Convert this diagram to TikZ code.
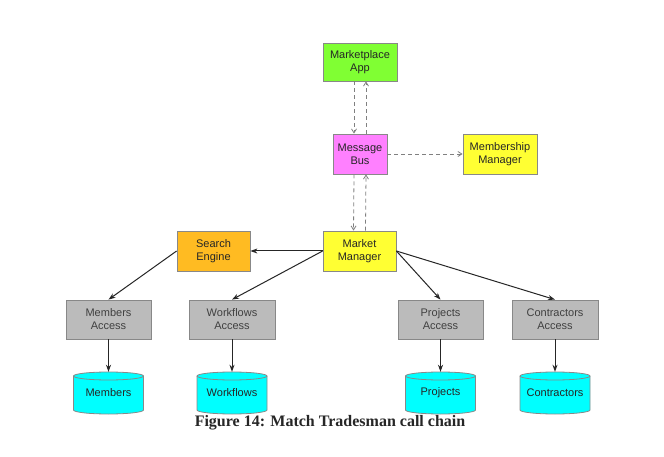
\documentclass[tikz,border=0pt]{standalone}
\usepackage{fontspec}
\setmainfont{Liberation Sans}
\newfontfamily\capfont{Liberation Serif}
\usetikzlibrary{arrows.meta,calc}
\definecolor{cgreen}{HTML}{80FF33}
\definecolor{cviolet}{HTML}{FF80FF}
\definecolor{cyellow}{HTML}{FFFF33}
\definecolor{corange}{HTML}{FFBB22}
\definecolor{cgray}{HTML}{BBBBBB}
\definecolor{ccyan}{HTML}{00FFFF}
\definecolor{cborder}{HTML}{888888}
\definecolor{cdash}{HTML}{808080}
\tikzset{
  box/.style={draw=cborder, line width=0.8pt, align=center, text=black!85,
    font=\fontsize{11}{13}\selectfont, inner sep=0pt},
  cylnode/.style={draw=none, align=center, text=black!85,
    font=\fontsize{11}{13}\selectfont, minimum width=70pt, minimum height=42pt, inner sep=0pt},
  solidarrow/.style={line width=1pt, black!85, -{Stealth[length=7pt,width=5pt]}},
  dasharrow/.style={line width=0.8pt, cdash, dash pattern=on 4pt off 3pt,
    -{Straight Barb[length=4pt,width=5pt]}},
}
\newcommand{\mycyl}[4]{%
  \fill[ccyan] (#2-35,#3-17) -- (#2-35,#3+17) arc[start angle=180,end angle=0,x radius=35,y radius=4]
    -- (#2+35,#3-17) arc[start angle=0,end angle=-180,x radius=35,y radius=4] -- cycle;
  \draw[cborder, line width=0.8pt] (#2-35,#3-17) -- (#2-35,#3+17) arc[start angle=180,end angle=0,x radius=35,y radius=4]
    -- (#2+35,#3-17) arc[start angle=0,end angle=-180,x radius=35,y radius=4] -- cycle;
  \draw[cborder, line width=0.8pt] (#2-35,#3-17) arc[start angle=180,end angle=0,x radius=35,y radius=4];
  \node[cylnode] (#1) at (#2,#3) {\raisebox{-4pt}{#4}};
}
\begin{document}
\begin{tikzpicture}[x=1pt,y=-1pt]
\useasboundingbox[fill=white] (0,0) rectangle (664,457);

\node[box, fill=cgreen, minimum width=74pt, minimum height=38pt] (ma) at (360,62) {Marketplace\\App};
\node[box, fill=cviolet, minimum width=54pt, minimum height=40pt] (mb) at (360,154) {Message\\Bus};
\node[box, fill=cyellow, minimum width=74pt, minimum height=40pt] (mem) at (500,154) {Membership\\Manager};
\node[box, fill=corange, minimum width=73pt, minimum height=40pt] (se) at (213.5,251) {Search\\Engine};
\node[box, fill=cyellow, minimum width=73pt, minimum height=40pt] (mm) at (359.5,251) {Market\\Manager};

\node[box, fill=cgray, minimum width=85pt, minimum height=39pt, text=black!75] (mema) at (108.5,319.5) {Members\\Access};
\node[box, fill=cgray, minimum width=86pt, minimum height=39pt, text=black!75] (wfa) at (232,319.5) {Workflows\\Access};
\node[box, fill=cgray, minimum width=85pt, minimum height=39pt, text=black!75] (pa) at (440.5,319.5) {Projects\\Access};
\node[box, fill=cgray, minimum width=86pt, minimum height=39pt, text=black!75] (ca) at (555,319.5) {Contractors\\Access};

\mycyl{memdb}{108.5}{393}{Members}
\mycyl{wfdb}{232}{393}{Workflows}
\mycyl{pdb}{440.5}{393}{Projects}
\mycyl{cdb}{555}{393}{Contractors}

% dashed connectors
\draw[dasharrow] ([xshift=-6pt]ma.south) -- ([xshift=-6pt]mb.north);
\draw[dasharrow] ([xshift=6pt]mb.north) -- ([xshift=6pt]ma.south);
\draw[dasharrow] ([xshift=-6pt]mb.south) -- ([xshift=-6pt]mm.north);
\draw[dasharrow] ([xshift=6pt]mm.north) -- ([xshift=6pt]mb.south);
\draw[dasharrow] (mb.east) -- (mem.west);

% solid connectors
\draw[solidarrow] (mm.west) -- (se.east);
\draw[solidarrow] (se.west) -- (mema.north);
\draw[solidarrow] (mm.west) -- (wfa.north);
\draw[solidarrow] (mm.east) -- (pa.north);
\draw[solidarrow] (mm.east) -- (ca.north);
\draw[solidarrow] (mema.south) -- (memdb.north);
\draw[solidarrow] (wfa.south) -- (wfdb.north);
\draw[solidarrow] (pa.south) -- (pdb.north);
\draw[solidarrow] (ca.south) -- (cdb.north);

\node[font=\capfont\bfseries\fontsize{16}{18}\selectfont, text=black!85] (cap) at (330,423) {Figure 14: Match Tradesman call chain};
\end{tikzpicture}
\end{document}
